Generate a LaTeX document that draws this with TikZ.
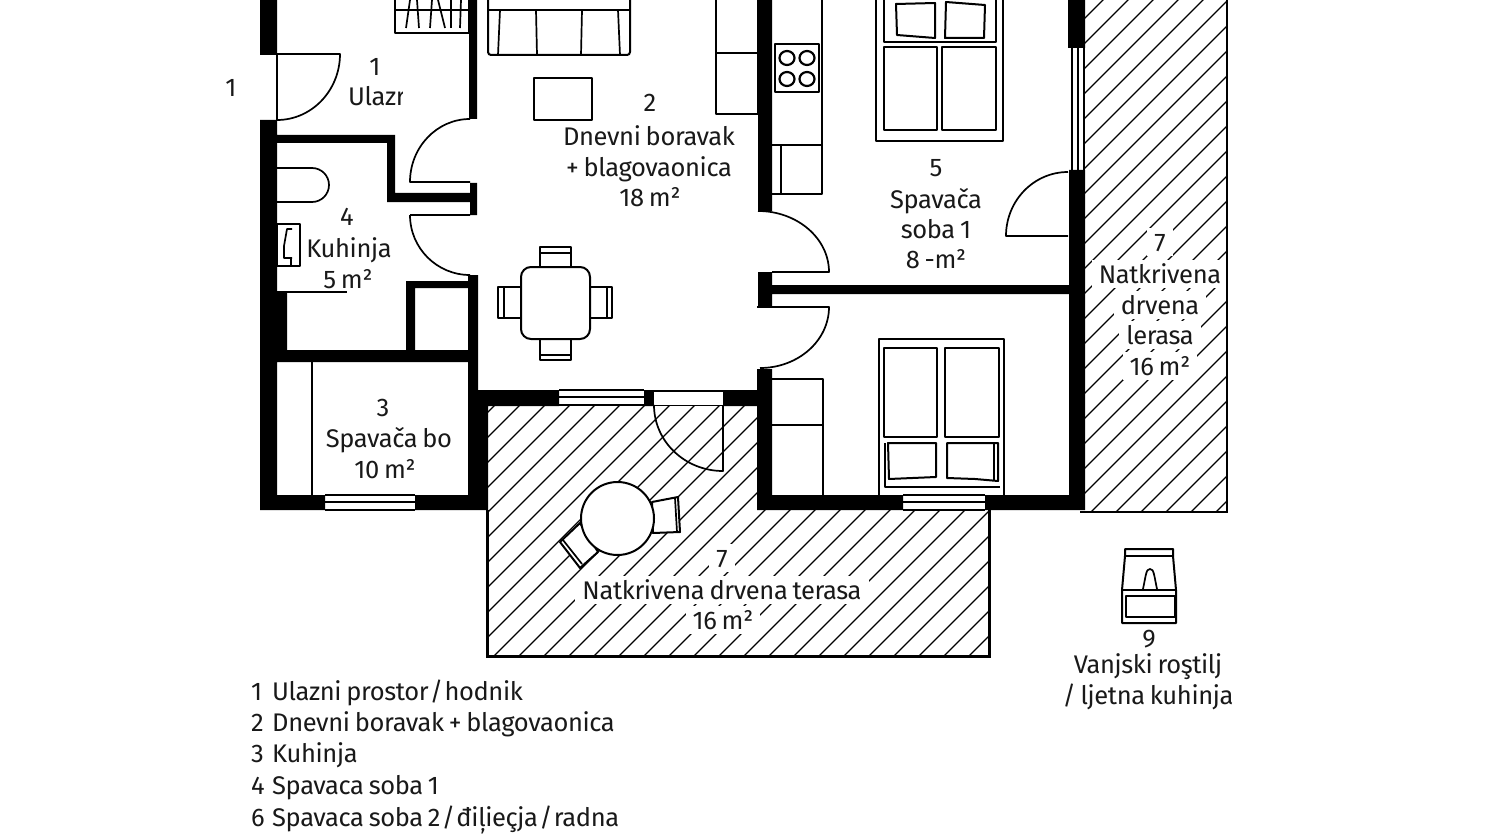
\documentclass[tikz,border=0pt]{standalone}
\usepackage{fontspec}
\setmainfont[LetterSpace=-1.5,WordSpace=0.75]{Fira Sans}
\newcommand{\slashmark}{\kern-3.5pt/\kern-3.5pt}
\tikzset{
    %Define style for walls and thin drawn parts
    wallpart/.style={fill=black, draw=none},
    outline/.style={draw=black, line width=1.7pt, line join=round},
    furniture/.style={draw=black, line width=2pt, fill=white, line join=round},
    hatchline/.style={draw=black, line width=1.2pt},
    % Define style for labels
    roomlabel/.style={font=\fontsize{25.5}{25.5}\selectfont, inner sep=0pt, text height=18pt, text depth=0pt, anchor=center, text=black!90},
    hatchlabel/.style={roomlabel, fill=white, inner xsep=7pt, inner ysep=5pt},
    legendlabel/.style={font=\fontsize{25.5}{25.5}\selectfont, inner sep=0pt, anchor=base west, text=black!90}
}
\begin{document}
\begin{tikzpicture}[x=1pt,y=-1pt]
\useasboundingbox[fill=white] (0,0) rectangle (1500,840);
% hatching of both terraces
\begin{scope}
\clip (487,406) -- (757,406) -- (757,510) -- (988,510) -- (988,655) -- (487,655) -- cycle;
\foreach \c in {875,900,...,1650}
	\draw[hatchline] (\c-300,300) -- (\c-700,700);
\end{scope}
\begin{scope}
\clip (1085,0) rectangle (1226,512);
\foreach \c in {1078,1103,...,1753}
	\draw[hatchline] (\c+100,-100) -- (\c-600,600);
\end{scope}
% labels on the terraces
\node[hatchlabel] (sidenum) at (1160,242) {7};
\node[hatchlabel] (sidename) at (1160,274) {Natkrivena};
\node[hatchlabel] (sidenametwo) at (1160,305) {drvena};
\node[hatchlabel] (sidenamethree) at (1160,335) {lerasa};
\node[hatchlabel] (sidearea) at (1160,366) {16 m²};
\node[hatchlabel] (terracenum) at (722,558) {7};
\node[hatchlabel] (terracename) at (722,590) {Natkrivena drvena terasa};
\node[hatchlabel] (terracearea) at (723,620) {16 m²};
% terrace outlines
\draw[line width=3pt] (487,510) -- (487,656) -- (989,656) -- (989,510);
\draw[line width=2.6pt] (1080,512) -- (1227,512) -- (1227,0);
% walls
\fill[wallpart] (260,0) rectangle (277,55)
	(260,120) rectangle (277,510)
	(277,292) rectangle (287,350)
	(260,350) rectangle (478,362)
	(260,495) rectangle (325,510)
	(415,495) rectangle (488,510)
	(468,362) rectangle (478,510)
	(469,0) rectangle (477,119)
	(277,135) rectangle (395,143)
	(387,135) rectangle (395,202)
	(387,193) rectangle (470,202)
	(470,183) rectangle (477,215)
	(468,275) rectangle (478,362)
	(406,281) rectangle (470,288)
	(406,281) rectangle (415,350)
	(468,390) rectangle (559,406)
	(468,390) rectangle (488,510)
	(644,390) rectangle (654,406)
	(723,390) rectangle (770,406)
	(757,369) rectangle (772,510)
	(757,495) rectangle (903,510)
	(985,495) rectangle (1085,510)
	(1069,170) rectangle (1085,510)
	(1068,0) rectangle (1085,48)
	(758,0) rectangle (772,211)
	(758,272) rectangle (772,307)
	(772,285) rectangle (1070,294);
% windows
\draw[outline] (325,495) -- (415,495) (325,502) -- (415,502) (325,510) -- (415,510);
\draw[outline] (559,390) -- (644,390) (559,397) -- (644,397) (559,405) -- (644,405);
\fill[white] (654,392) rectangle (723,405);
\draw[outline] (654,391) -- (723,391) (654,405.5) -- (723,405.5);
\draw[outline] (903,495) -- (985,495) (903,502) -- (985,502) (903,510) -- (985,510);
\draw[outline] (1072,48) -- (1072,170) (1078,48) -- (1078,170) (1084,48) -- (1084,170);
% doors
\draw[outline] (277,54) -- (340,54) arc (0:90:63 and 66) -- (277,54);
\draw[outline] (470,119) arc (270:180:60 and 63) -- (470,182);
\draw[outline] (410,215) -- (470,215) (410,215) arc (180:90:60 and 60);
\draw[outline] (1068,172) arc (270:180:62 and 64) -- (1068,236);
\draw[outline] (758,211) arc (270:360:71 and 61) -- (772,272);
\draw[outline] (757,307) -- (829,307) arc (0:90:69 and 61);
\draw[outline] (723,405) -- (723,471) arc (90:180:69 and 66);
\draw[outline] (277,292) -- (347,292);
% entrance
\draw[furniture] (395,-5) rectangle (469,33);
\draw[outline] (395,10) -- (469,10);
\foreach \a/\b in {410/406,417/419,432/430,438/445,451/451,461/460}
	\draw[outline] (\a,0) -- (\b,28);
% living room
\draw[furniture, rounded corners=3pt] (488,-5) rectangle (630,55);
\draw[outline] (488,10) -- (630,10);
\draw[outline] (500,10) -- (498,55) (536,10) -- (537,55) (582,10) -- (581,55) (618,10) -- (620,55);
\draw[furniture] (534,78) rectangle (592,120);
\draw[furniture] (716,-5) rectangle (758,114);
\draw[outline] (716,53) -- (758,53);
% dining table and chairs
\draw[furniture] (540,247) rectangle (571,268);
\draw[outline] (540,253) -- (571,253);
\draw[furniture] (540,339) rectangle (571,360);
\draw[outline] (540,355) -- (571,355);
\draw[furniture] (498,287) rectangle (521,318);
\draw[outline] (504,287) -- (504,318);
\draw[furniture] (590,287) rectangle (612,318);
\draw[outline] (607,287) -- (607,318);
\draw[furniture, rounded corners=10pt] (521,267) rectangle (590,339);
% kitchen unit
\draw[outline] (822,-5) -- (822,194) -- (772,194) (772,145) -- (822,145) (781,145) -- (781,194);
\draw[furniture] (775,44) rectangle (819,92);
\foreach \x/\y in {787/58,807/58,787/79,807/79}
	\draw[outline, line width=2.2pt] (\x,\y) ellipse (7.5 and 7);
% bed 1
\draw[outline] (876,-5) -- (876,141) -- (1003,141) -- (1003,-5);
\draw[outline] (884,-5) -- (884,42) -- (996,42) -- (996,-5);
\draw[furniture] (884,47) rectangle (937,130);
\draw[furniture] (942,47) rectangle (996,130);
\draw[furniture] (896,4) -- (935,3) -- (935,38) -- (897,35) -- cycle;
\draw[furniture] (946,2) -- (985,5) -- (984,38) -- (945,38) -- cycle;
% bed 2
\draw[outline] (879,495) -- (879,339) -- (1004,339) -- (1004,495);
\draw[furniture] (884,348) rectangle (937,437);
\draw[furniture] (945,348) rectangle (999,437);
\draw[outline] (885,443) -- (885,487) -- (1000,487);
\draw[furniture] (888,443) -- (936,443) -- (936,477) -- (889,479) -- cycle;
\draw[furniture] (947,443) -- (998,443) -- (998,481) -- (975,479) -- (947,478) -- cycle;
\draw[outline] (994,443) -- (994,480);
% wardrobe
\draw[outline] (772,379) -- (823,379) -- (823,495) (772,425) -- (823,425);
% room 3 and bathroom
\draw[outline] (312,362) -- (312,495);
\draw[outline] (277,168) -- (312,168) arc (270:450:17 and 17) -- (277,202);
\draw[outline] (277,224) rectangle (300,266);
\draw[outline] (292,229) -- (287,229) -- (284,246) -- (284,258) -- (292,258) (291,258) -- (291,266);
% terrace table and chairs
\draw[furniture] (652,502) -- (678,497) -- (680,532) -- (653,533) -- cycle;
\draw[outline] (675,498) -- (677,532);
\draw[furniture] (580,523) -- (560,542) -- (580,568) -- (598,552) -- cycle;
\draw[outline] (563,540) -- (582,564);
\draw[furniture] (617.5,518.5) circle (36.5);
% grill
\draw[furniture] (1125,549) -- (1173,549) -- (1173,556) -- (1176,590) -- (1176,623) -- (1122,623) -- (1122,590) -- (1125,556) -- cycle;
\draw[outline] (1125,556) -- (1173,556) (1122,590) -- (1176,590);
\draw[outline] (1126,596) rectangle (1175,617);
\draw[outline] (1143,589) .. controls (1146,575) and (1146,569) .. (1150,569) .. controls (1154,569) and (1154,575) .. (1157,589);
% room labels
\node[roomlabel] (entrydoor) at (231,88) {1};
\node[roomlabel] (entrynum) at (375,67) {1};
\begin{scope}
\clip (340,80) rectangle (402,115);
\node[roomlabel, anchor=base west] (entryname) at (348,106) {Ulazr};
\end{scope}
\node[roomlabel] (livingnum) at (650,103) {2};
\node[roomlabel] (livingname) at (649,137) {Dnevni boravak};
\node[roomlabel] (livingnametwo) at (649,167) {+ blagovaonica};
\node[roomlabel] (livingarea) at (650,197) {18 m²};
\node[roomlabel] (kitchennum) at (347,216) {4};
\node[roomlabel] (kitchenname) at (349,248) {Kuhinja};
\node[roomlabel] (kitchenarea) at (348,279) {5 m²};
\node[roomlabel] (roomthreenum) at (383,407) {3};
\node[roomlabel] (roomthreename) at (389,438) {Spavača bo};
\node[roomlabel] (roomthreearea) at (385,469) {10 m²};
\node[roomlabel] (bedonenum) at (936,167) {5};
\node[roomlabel] (bedonename) at (936,199) {Spavača};
\node[roomlabel] (bedonenametwo) at (936,229) {soba 1};
\node[roomlabel] (bedonearea) at (936,259) {8 -m²};
\node[roomlabel] (grillnum) at (1149,638) {9};
\node[roomlabel] (grillname) at (1148,664) {Vanjski roştilj};
\node[roomlabel] (grillnametwo) at (1148,695) {/ ljetna kuhinja};
% legend
\foreach \n/\t/\y/\k in {1/Ulazni prostor \slashmark{} hodnik/700/a,2/Dnevni boravak + blagovaonica/731/b,3/Kuhinja/762/c,4/Spavaca soba 1/794/d,6/Spavaca soba 2 \slashmark{} điļieçja \slashmark{} radna/826/e}{
	\node[legendlabel] (legendnum\k) at (251,\y) {\n};
	\node[legendlabel] (legendtext\k) at (272,\y) {\t};
}
\end{tikzpicture}
\end{document}
